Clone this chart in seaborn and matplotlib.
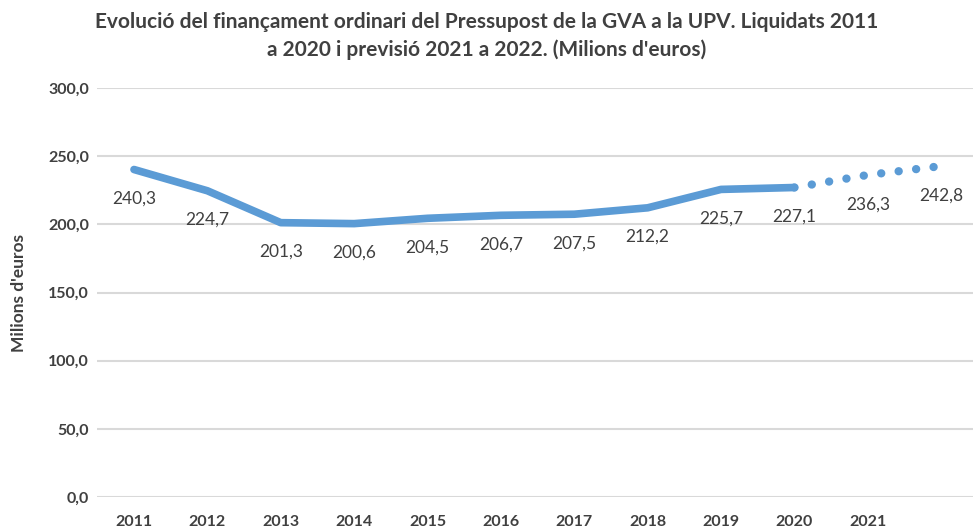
import matplotlib
matplotlib.use("Agg")
import pandas as pd
import matplotlib.pyplot as plt
import seaborn as sns

# Data
years = ["2011", "2012", "2013", "2014", "2015", "2016", "2017", "2018", "2019", "2020", "2021", "2022"]
values = [240.3, 224.7, 201.3, 200.6, 204.5, 206.7, 207.5, 212.2, 225.7, 227.1, 236.3, 242.8]
tick_labels = ["2011", "2012", "2013", "2014", "2015", "2016", "2017", "2018", "2019", "2020", "2021", ""]
y_ticks = [0, 50, 100, 150, 200, 250, 300]

# liquidated years 2011-2020 solid, forecast 2020-2022 dotted
df = pd.DataFrame({"year": years, "value": values})
actual = df.iloc[:10]
forecast = df.iloc[9:]

sns.set_theme(style="white")
plt.rcParams["font.family"] = ["Lato", "DejaVu Sans"]

blue = "#5B9BD5"
grey_text = "#404040"

fig = plt.figure(figsize=(9.73, 5.31), dpi=100)
ax = fig.add_axes([0.1, 0.064, 0.905, 0.77])

ax.set_xlim(-0.5, len(years) - 0.5)
ax.set_ylim(0, 300)

sns.lineplot(data=actual, x="year", y="value", ax=ax, color=blue, linewidth=5.5,
             sort=False, solid_capstyle="round", solid_joinstyle="round")
sns.lineplot(data=forecast, x="year", y="value", ax=ax, color=blue, linewidth=6,
             sort=False, linestyle=(0, (0.01, 2.1)), dash_capstyle="round")

# data labels below the points
for i, v in enumerate(values):
    ax.annotate(f"{v:.1f}".replace(".", ","), (i, v), xytext=(0, -21), textcoords="offset points",
                ha="center", va="center", fontsize=12.5, color=grey_text)

ax.set_xticks(range(len(years)))
ax.set_xticklabels(tick_labels, fontsize=11.5, fontweight="bold", color=grey_text)
ax.set_yticks(y_ticks)
ax.set_yticklabels([f"{t:.1f}".replace(".", ",") for t in y_ticks],
                   fontsize=11.5, fontweight="bold", color=grey_text)
ax.tick_params(axis="both", length=0)
ax.tick_params(axis="y", pad=6)
ax.tick_params(axis="x", pad=13)

ax.grid(axis="y", color="#D9D9D9", linewidth=1.5)
ax.set_axisbelow(True)
for s in ax.spines.values():
    s.set_visible(False)

ax.set_xlabel("")
ax.set_ylabel("Milions d'euros", fontsize=12.5, fontweight="bold", color=grey_text)
ax.yaxis.set_label_coords(-0.08, 0.5)

fig.text(0.5, 0.932, "Evolució del finançament ordinari del Pressupost de la GVA a la UPV. Liquidats 2011\n"
         "a 2020 i previsió 2021 a 2022. (Milions d'euros)",
         ha="center", va="center", fontsize=15, fontweight="bold", color=grey_text, linespacing=1.45)

fig.savefig("out.png", dpi=100, facecolor="white")
